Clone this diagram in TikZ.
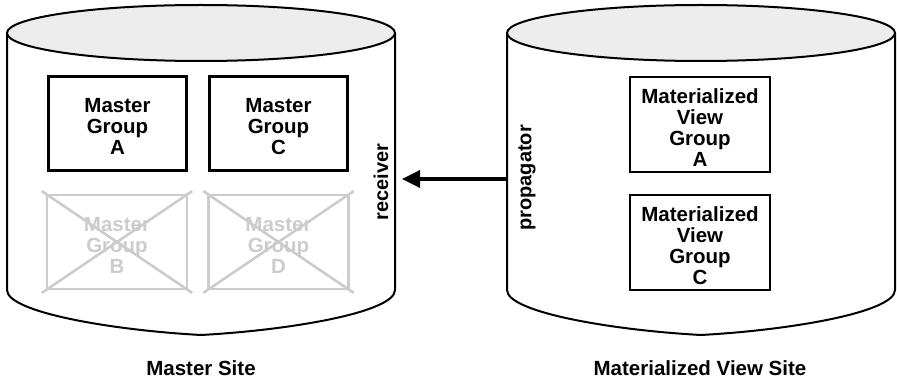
\documentclass[tikz,border=0pt]{standalone}
\usepackage{fontspec}
\setmainfont{Liberation Sans}
\usetikzlibrary{arrows.meta,calc}
\begin{document}
\begin{tikzpicture}[x=1pt,y=-1pt,
  cyl/.style={line width=2pt,draw=black},
  lid/.style={line width=2pt,draw=black,fill=black!7},
  gtext/.style={align=center,font=\fontsize{20.5}{21}\selectfont\bfseries,inner sep=0pt,yshift=-3pt},
  grp/.style={draw=black,line width=2.2pt,minimum width=138pt,minimum height=94pt,inner sep=0pt,
    label={[gtext]center:#1}},
  gone/.style={draw=black!20,line width=2.2pt,minimum width=140pt,minimum height=94pt,inner sep=0pt,
    label={[gtext,text=black!20]center:#1}},
  vgrp/.style={grp={#1},minimum width=140pt,minimum height=95pt},
  xline/.style={draw=black!20,line width=2.6pt},
  lbl/.style={font=\fontsize{20.5}{22}\selectfont\bfseries,inner sep=0pt},
  side/.style={font=\fontsize{20}{22}\selectfont\bfseries,rotate=90}]
\useasboundingbox (0,0) rectangle (897,379);
% left cylinder
\draw[cyl] (7,33) -- (7,290) .. controls (7,312) and (110,330) .. (201,335)
  .. controls (292,330) and (395,312) .. (395,290) -- (395,33);
\draw[lid] (201,33) ellipse [x radius=194, y radius=28];
% right cylinder
\draw[cyl] (507,33) -- (507,290) .. controls (507,312) and (610,330) .. (701,335)
  .. controls (792,330) and (895,312) .. (895,290) -- (895,33);
\draw[lid] (701,33) ellipse [x radius=194, y radius=28];
% master groups
\node[grp={Master\\Group\\A}] (ma) at (117.5,123.5) {};
\node[grp={Master\\Group\\C}] (mc) at (278.5,123.5) {};
\node[gone={Master\\Group\\B}] (mb) at (117,242) {};
\node[gone={Master\\Group\\D}] (md) at (278.5,242) {};
\draw[xline] ($(mb.north west)!-5pt!(mb.south east)$) -- ($(mb.south east)!-5pt!(mb.north west)$);
\draw[xline] ($(mb.north east)!-5pt!(mb.south west)$) -- ($(mb.south west)!-5pt!(mb.north east)$);
\draw[xline] ($(md.north west)!-5pt!(md.south east)$) -- ($(md.south east)!-5pt!(md.north west)$);
\draw[xline] ($(md.north east)!-5pt!(md.south west)$) -- ($(md.south west)!-5pt!(md.north east)$);
% materialized view groups
\node[vgrp={Materialized\\View\\Group\\A}] (va) at (700,124.5) {};
\node[vgrp={Materialized\\View\\Group\\C}] (vc) at (700,242.5) {};
% side labels
\node[side] (recv) at (381,182) {receiver};
\node[side] (prop) at (527,178) {propagator};
% arrow
\coordinate (from) at (507,179);
\coordinate (to) at (402,179);
\draw[line width=3.5pt,-{Triangle[length=18pt,width=17pt]}] (from) -- (to);
% site labels
\node[lbl] (ms) at (201,368) {Master Site};
\node[lbl] (vs) at (700,368) {Materialized View Site};
\end{tikzpicture}
\end{document}
